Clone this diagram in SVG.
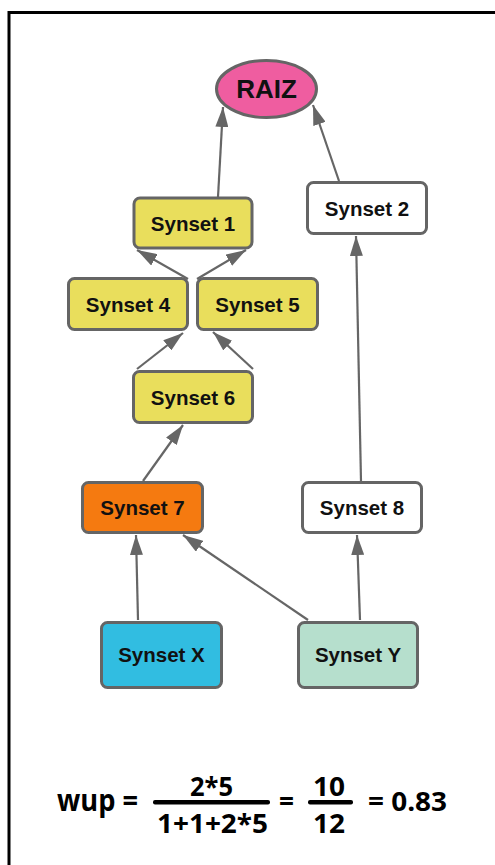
<svg xmlns="http://www.w3.org/2000/svg" width="495" height="865" viewBox="0 0 495 865">
  <style>
    .node rect, .node ellipse { stroke: #656565; stroke-width: 3; }
    .label { font-family: "Liberation Sans", Arial, sans-serif; font-weight: bold; font-size: 20.5px; fill: #111; text-anchor: middle; }
    .edge { stroke: #666; stroke-width: 2.2; fill: none; marker-end: url(#arrow); }
    .eq { font-family: "Open Sans", "Liberation Sans", sans-serif; font-weight: 700; fill: #000; }
  </style>
  <defs>
    <marker id="arrow" markerUnits="userSpaceOnUse" markerWidth="20" markerHeight="13" refX="20" refY="6.5" orient="auto">
      <path d="M0,0 L20,6.5 L0,13 z" fill="#666"/>
    </marker>
  </defs>

  <rect x="0" y="0" width="495" height="865" fill="#fff"/>
  <!-- frame -->
  <rect x="9" y="12.5" width="500" height="870" fill="none" stroke="#000" stroke-width="3"/>

  <!-- connectors -->
  <g id="edges">
    <line class="edge" x1="218" y1="197" x2="223" y2="107"/>
    <line class="edge" x1="339" y1="181" x2="313" y2="105"/>
    <line class="edge" x1="188" y1="279" x2="137" y2="250"/>
    <line class="edge" x1="197" y1="279" x2="246" y2="250"/>
    <line class="edge" x1="137" y1="369" x2="183" y2="333"/>
    <line class="edge" x1="253" y1="369" x2="213" y2="332"/>
    <line class="edge" x1="143" y1="481" x2="183" y2="425"/>
    <line class="edge" x1="361" y1="481" x2="356" y2="236"/>
    <line class="edge" x1="138" y1="620" x2="136" y2="535"/>
    <line class="edge" x1="308" y1="620" x2="183" y2="535"/>
    <line class="edge" x1="360" y1="620" x2="357" y2="535"/>
  </g>

  <g id="raiz" class="node">
    <ellipse cx="266.5" cy="89" rx="50" ry="28.5" fill="#EF5DA0"/>
    <text x="266.5" y="97.5" class="label" style="font-size:26px">RAIZ</text>
  </g>
  <g id="synset1" class="node">
    <rect x="134" y="198" width="118" height="50" rx="6" fill="#E9DE5C"/>
    <text x="193" y="230.5" class="label">Synset 1</text>
  </g>
  <g id="synset2" class="node">
    <rect x="307.5" y="182.5" width="119" height="51" rx="6" fill="#fff"/>
    <text x="367" y="215.5" class="label">Synset 2</text>
  </g>
  <g id="synset4" class="node">
    <rect x="68.5" y="278.5" width="119" height="51" rx="6" fill="#E9DE5C"/>
    <text x="128" y="311.5" class="label">Synset 4</text>
  </g>
  <g id="synset5" class="node">
    <rect x="197.5" y="278.5" width="120" height="51" rx="6" fill="#E9DE5C"/>
    <text x="257.5" y="311.5" class="label">Synset 5</text>
  </g>
  <g id="synset6" class="node">
    <rect x="133.5" y="371.5" width="119" height="51" rx="6" fill="#E9DE5C"/>
    <text x="193" y="404.5" class="label">Synset 6</text>
  </g>
  <g id="synset7" class="node">
    <rect x="82.5" y="482.5" width="120" height="50" rx="6" fill="#F57A10"/>
    <text x="142.5" y="515" class="label">Synset 7</text>
  </g>
  <g id="synset8" class="node">
    <rect x="302.5" y="482.5" width="119" height="50" rx="6" fill="#fff"/>
    <text x="362" y="515" class="label">Synset 8</text>
  </g>
  <g id="synsetX" class="node">
    <rect x="101.5" y="622.5" width="120" height="65" rx="6" fill="#31BDE1"/>
    <text x="161.5" y="662" class="label">Synset X</text>
  </g>
  <g id="synsetY" class="node">
    <rect x="298.5" y="622.5" width="119" height="65" rx="6" fill="#B6DFCD"/>
    <text x="358" y="662" class="label">Synset Y</text>
  </g>

  <!-- Wu & Palmer similarity -->
  <g id="formula">
    <text x="57" y="811" class="eq" style="font-size:30px" textLength="81" lengthAdjust="spacingAndGlyphs">wup =</text>
    <text x="190" y="796" class="eq" style="font-size:27px" textLength="43" lengthAdjust="spacingAndGlyphs">2*5</text>
    <rect x="153" y="800" width="117" height="4.5" rx="2" fill="#000"/>
    <text x="157" y="833" class="eq" style="font-size:27px" textLength="111" lengthAdjust="spacingAndGlyphs">1+1+2*5</text>
    <text x="279" y="811" class="eq" style="font-size:29px" textLength="15" lengthAdjust="spacingAndGlyphs">=</text>
    <text x="313" y="796" class="eq" style="font-size:27px" textLength="32" lengthAdjust="spacingAndGlyphs">10</text>
    <rect x="308" y="800" width="45" height="4.5" rx="2" fill="#000"/>
    <text x="313" y="833" class="eq" style="font-size:27px" textLength="32" lengthAdjust="spacingAndGlyphs">12</text>
    <text x="368" y="811" class="eq" style="font-size:27px" textLength="79" lengthAdjust="spacingAndGlyphs">= 0.83</text>
  </g>
</svg>
